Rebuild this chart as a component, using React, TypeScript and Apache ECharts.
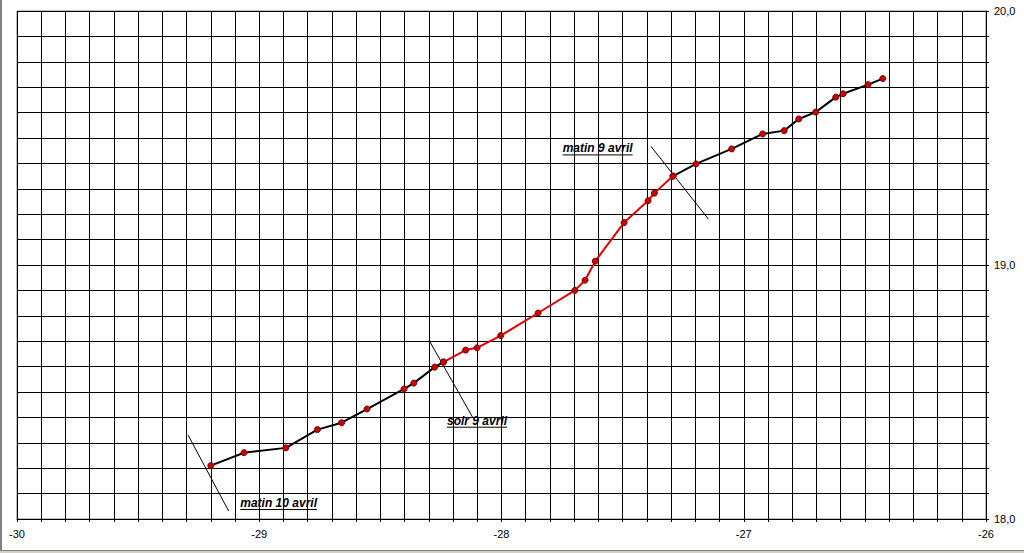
import React, { useEffect, useRef } from "react";
import * as echarts from "echarts";

// Track, first black part (matin 10 avril -> soir 9 avril)
const trackEarly: [number, number][] = [
  [-29.2, 18.21], [-29.063, 18.261], [-28.89, 18.28], [-28.76, 18.352],
  [-28.66, 18.379], [-28.555, 18.433], [-28.402, 18.512], [-28.362, 18.535],
  [-28.276, 18.598], [-28.24, 18.618],
];
// Red part (soir 9 avril -> matin 9 avril)
const trackNight: [number, number][] = [
  [-28.24, 18.618], [-28.148, 18.665], [-28.101, 18.674], [-28.003, 18.722],
  [-27.849, 18.811], [-27.697, 18.9], [-27.655, 18.94], [-27.613, 19.015],
  [-27.494, 19.167], [-27.395, 19.253], [-27.369, 19.283], [-27.292, 19.35],
];
// Second black part (after matin 9 avril)
const trackLate: [number, number][] = [
  [-27.292, 19.35], [-27.197, 19.398], [-27.05, 19.457], [-26.922, 19.516],
  [-26.833, 19.529], [-26.773, 19.575], [-26.703, 19.602], [-26.62, 19.661],
  [-26.59, 19.674], [-26.487, 19.71], [-26.426, 19.734],
];

// Annotation marker lines
const markerLines: [number, number][][] = [
  [[-29.294, 18.331], [-29.126, 18.031]],
  [[-28.298, 18.702], [-28.119, 18.4]],
  [[-27.383, 19.467], [-27.146, 19.181]],
];
const annotationTexts = ["matin 10 avril", "soir 9 avril", "matin 9 avril"];
const annotationAnchors: [number, number][] = [
  [-28.92, 18.063], [-28.101, 18.387], [-27.603, 19.459],
];

const xMin = -30, xMax = -26, yMin = 18, yMax = 20, step = 0.1;

const FONT = "'Liberation Sans', Arial, sans-serif";
const ANN_FONT_SIZE = 12;

function isInt(v: number) {
  return Math.abs(v - Math.round(v)) < 1e-6;
}

export default function App() {
  const ref = useRef<HTMLDivElement>(null);
  useEffect(() => {
    if (!ref.current) return;
    const chart = echarts.init(ref.current, null, { renderer: "svg" });
    const pointStyle = { color: "#cc0000", borderColor: "#700000", borderWidth: 1 };
    const series: any[] = [
      {
        type: "line", data: trackEarly, symbol: "circle", symbolSize: 6,
        lineStyle: { color: "#000000", width: 2 }, itemStyle: pointStyle, z: 5,
      },
      {
        type: "line", data: trackNight, symbol: "circle", symbolSize: 6,
        lineStyle: { color: "#e00000", width: 2 }, itemStyle: pointStyle, z: 5,
      },
      {
        type: "line", data: trackLate, symbol: "circle", symbolSize: 6,
        lineStyle: { color: "#000000", width: 2 }, itemStyle: pointStyle, z: 5,
      },
      ...markerLines.map((l) => ({
        type: "line", data: l, symbol: "none",
        lineStyle: { color: "#000000", width: 1 }, z: 4,
      })),
    ];
    chart.setOption({
      animation: false,
      backgroundColor: "#ffffff",
      grid: {
        left: 17, top: 11, right: 38, bottom: 34,
        show: true, borderColor: "#808080", borderWidth: 1,
      },
      xAxis: {
        type: "value", min: xMin, max: xMax, interval: step,
        axisLine: { onZero: false, lineStyle: { color: "#000000", width: 1 } },
        axisTick: { show: true, length: 3, lineStyle: { color: "#000000" } },
        splitLine: { show: true, lineStyle: { color: "#000000", width: 1 } },
        axisLabel: {
          margin: 9, color: "#000000", fontSize: 11, fontFamily: FONT,
          formatter: (v: number) => (isInt(v) ? String(Math.round(v)) : ""),
        },
      },
      yAxis: {
        type: "value", position: "right", min: yMin, max: yMax, interval: step,
        axisLine: { show: true, onZero: false, lineStyle: { color: "#000000", width: 1 } },
        axisTick: { show: true, length: 3, lineStyle: { color: "#000000" } },
        splitLine: { show: true, lineStyle: { color: "#000000", width: 1 } },
        axisLabel: {
          margin: 8, color: "#000000", fontSize: 11, fontFamily: FONT,
          formatter: (v: number) => (isInt(v) ? Math.round(v).toFixed(1).replace(".", ",") : ""),
        },
      },
      series,
    });

    // Annotation texts, underlined
    const canvas = document.createElement("canvas");
    const ctx = canvas.getContext("2d");
    const fontStr = `italic bold ${ANN_FONT_SIZE}px ${FONT}`;
    if (ctx) ctx.font = fontStr;
    const graphics: any[] = [
      { type: "rect", left: 0, top: 0, shape: { width: 2, height: 553 }, style: { fill: "#808080" } },
      { type: "rect", left: 0, top: 550, shape: { width: 1024, height: 3 }, style: { fill: "#d4d0c8" } },
      { type: "line", shape: { x1: 0, y1: 550.5, x2: 1024, y2: 550.5 }, style: { stroke: "#808080", lineWidth: 1 } },
    ];
    annotationTexts.forEach((t, i) => {
      const p = chart.convertToPixel({ gridIndex: 0 }, annotationAnchors[i]) as number[];
      const w = ctx ? ctx.measureText(t).width : t.length * 6;
      graphics.push({
        type: "text", x: p[0], y: p[1], z: 10,
        style: {
          text: t, fill: "#000000", fontSize: ANN_FONT_SIZE, fontWeight: "bold",
          fontStyle: "italic", fontFamily: FONT, align: "center", verticalAlign: "middle",
        },
      });
      graphics.push({
        type: "line", z: 10,
        shape: { x1: p[0] - w / 2, y1: p[1] + 6.5, x2: p[0] + w / 2, y2: p[1] + 6.5 },
        style: { stroke: "#000000", lineWidth: 1 },
      });
    });
    chart.setOption({ graphic: graphics });

    return () => chart.dispose();
  }, []);
  return (
    <div
      ref={ref}
      style={{ position: "absolute", left: 0, top: 0, width: 1024, height: 553 }}
    />
  );
}
